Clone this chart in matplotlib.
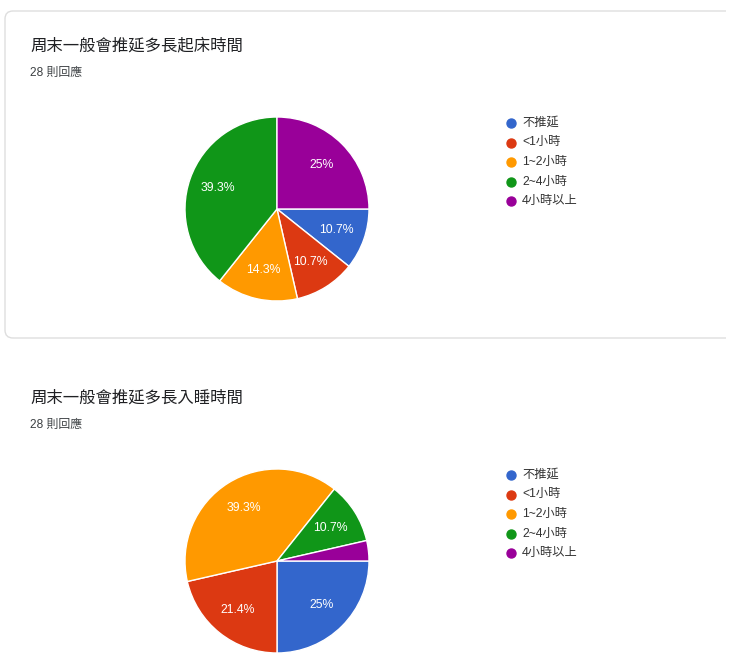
"""Two Google Forms style pie charts about weekend sleep delay."""
import matplotlib

matplotlib.use("Agg")
import matplotlib.pyplot as plt
from matplotlib.patches import FancyBboxPatch, Rectangle

plt.rcParams["font.family"] = ["Liberation Sans", "Noto Sans CJK TC", "DejaVu Sans"]

CATEGORIES = ["不推延", "<1小時", "1~2小時", "2~4小時", "4小時以上"]
COLORS = ["#3366cc", "#dc3912", "#ff9900", "#109618", "#990099"]

WAKE_TITLE = "周末一般會推延多長起床時間"
WAKE_COUNTS = [3, 3, 4, 11, 7]

SLEEP_TITLE = "周末一般會推延多長入睡時間"
SLEEP_COUNTS = [7, 6, 11, 3, 1]

RESPONSES = "28 則回應"

W, H = 740, 669


def px_axes(fig, x0, y0, x1, y1):
    """Add axes from pixel box (top-left origin)."""
    return fig.add_axes([x0 / W, 1 - y1 / H, (x1 - x0) / W, (y1 - y0) / H])


def fmt_pct(pct):
    text = f"{pct:.1f}"
    if text.endswith(".0"):
        text = text[:-2]
    return text + "%"


def draw_panel(fig, overlay, top, title, counts):
    overlay.text(30, top + 35, title, fontsize=11.8, color="#202124", va="center")
    overlay.text(30, top + 62, RESPONSES, fontsize=8.6, color="#3c4043", va="center")

    cx, cy, r = 277, top + 198, 92
    ax = px_axes(fig, cx - r, cy - r, cx + r, cy + r)
    ax.pie(
        counts,
        colors=COLORS,
        startangle=0,
        counterclock=False,
        radius=1,
        autopct=lambda p: fmt_pct(p) if p > 5 else "",
        pctdistance=0.68,
        wedgeprops={"edgecolor": "white", "linewidth": 1},
        textprops={"color": "white", "fontsize": 8.8},
    )
    ax.set_xlim(-1, 1)
    ax.set_ylim(-1, 1)
    ax.set_aspect("auto")
    ax.axis("off")

    y = top + 112
    for label, color in zip(CATEGORIES, COLORS):
        overlay.scatter([511], [y], s=42, color=color, zorder=3)
        overlay.text(522, y, label, fontsize=8.8, color="#333333", va="center")
        y += 19.5


fig = plt.figure(figsize=(W / 100, H / 100), dpi=100)
overlay = fig.add_axes([0, 0, 1, 1])
overlay.set_xlim(0, W)
overlay.set_ylim(H, 0)
overlay.axis("off")

card = FancyBboxPatch(
    (5, 11), 800, 327,
    boxstyle="round,pad=0,rounding_size=8",
    facecolor="white", edgecolor="#dedede", linewidth=1,
)
overlay.add_patch(card)
clip = Rectangle((0, 0), 726, 345, transform=overlay.transData)
card.set_clip_path(clip)

draw_panel(fig, overlay, 11, WAKE_TITLE, WAKE_COUNTS)
draw_panel(fig, overlay, 363, SLEEP_TITLE, SLEEP_COUNTS)

fig.savefig("out.png", dpi=100)
